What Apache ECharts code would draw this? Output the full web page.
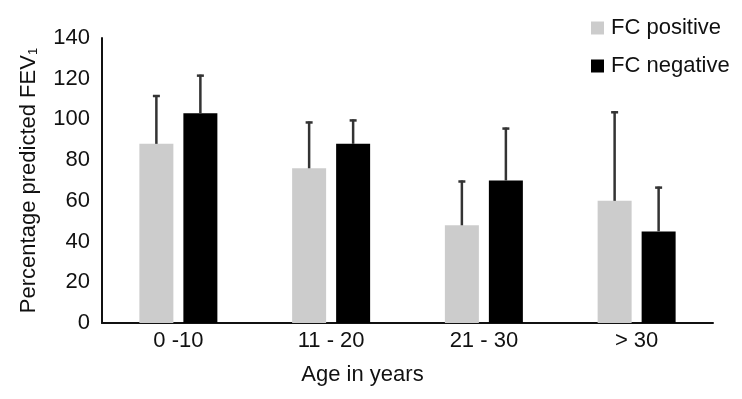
<!DOCTYPE html>
<html>
<head>
<meta charset="utf-8">
<script src="https://cdn.jsdelivr.net/npm/echarts@6/dist/echarts.min.js"></script>
<style>html,body{margin:0;padding:0;background:#fff}#c{width:742px;height:399px}</style>
</head>
<body>
<div id="c"></div>
<script>
var categories = ['0 -10', '11 - 20', '21 - 30', '> 30'];
var fcPositive = [88, 76, 48, 60];
var fcNegative = [103, 88, 70, 45];
var fcPositiveUpper = [112, 99, 70, 104];
var fcNegativeUpper = [122, 100, 96, 67];
var yTicks = [0, 20, 40, 60, 80, 100, 120, 140];

var BAR_W = 34, BAR_GAP = 10;
var font = 'Liberation Sans, Arial, sans-serif';

function errSeries(vals, uppers, side) {
  var data = vals.map(function (v, i) { return [i, v, uppers[i]]; });
  return {
    type: 'custom',
    z: 5,
    silent: true,
    data: data,
    renderItem: function (params, api) {
      var i = api.value(0);
      var p0 = api.coord([i, api.value(1)]);
      var p1 = api.coord([i, api.value(2)]);
      var x = p0[0] + side * (BAR_W + BAR_GAP) / 2;
      var style = { stroke: '#333333', lineWidth: 2.5 };
      return {
        type: 'group',
        children: [
          { type: 'line', shape: { x1: x, y1: p0[1], x2: x, y2: p1[1] }, style: style },
          { type: 'line', shape: { x1: x - 3.5, y1: p1[1] + 1, x2: x + 3.5, y2: p1[1] + 1 }, style: { stroke: '#333333', lineWidth: 2.5 } }
        ]
      };
    }
  };
}

var chart = echarts.init(document.getElementById('c'));
chart.setOption({
  animation: false,
  backgroundColor: '#ffffff',
  textStyle: { fontFamily: font },
  grid: { left: 102, right: 29, top: 38, bottom: 76, containLabel: false },
  legend: {
    orient: 'vertical',
    left: 586,
    top: 12,
    itemWidth: 13,
    itemHeight: 13,
    itemGap: 16,
    icon: 'rect',
    data: ['FC positive', 'FC negative'],
    textStyle: { fontFamily: font, fontSize: 22, color: '#111', padding: [0, 0, 0, 2], lineHeight: 22 }
  },
  xAxis: {
    type: 'category',
    data: categories,
    axisLine: { lineStyle: { color: '#111', width: 2 } },
    axisTick: { show: false },
    axisLabel: { fontFamily: font, fontSize: 22, color: '#111', margin: 7 },
    name: 'Age in years',
    nameLocation: 'middle',
    nameGap: 41,
    nameTextStyle: { fontFamily: font, fontSize: 22, color: '#111', padding: [0, 90, 0, 0] }
  },
  yAxis: {
    type: 'value',
    min: 0,
    max: 140,
    interval: 20,
    splitLine: { show: false },
    axisLine: { show: true, lineStyle: { color: '#111', width: 2 } },
    axisTick: { show: false },
    axisLabel: {
      fontFamily: font, fontSize: 22, color: '#111', margin: 12,
      formatter: function (v) { return yTicks.indexOf(v) >= 0 ? String(v) : ''; }
    },
    name: 'Percentage predicted FEV{sub|1}',
    nameLocation: 'middle',
    nameRotate: 90,
    nameGap: 62,
    nameTextStyle: {
      fontFamily: font, fontSize: 22, color: '#111',
      rich: { sub: { fontFamily: font, fontSize: 13, color: '#111', verticalAlign: 'bottom', padding: [8, 0, 0, 0] } }
    }
  },
  series: [
    { name: 'FC positive', type: 'bar', data: fcPositive, barWidth: BAR_W, barGap: (BAR_GAP / BAR_W * 100) + '%', itemStyle: { color: '#cccccc' } },
    { name: 'FC negative', type: 'bar', data: fcNegative, barWidth: BAR_W, itemStyle: { color: '#000000' } },
    errSeries(fcPositive, fcPositiveUpper, -1),
    errSeries(fcNegative, fcNegativeUpper, 1)
  ]
});
</script>
</body>
</html>
